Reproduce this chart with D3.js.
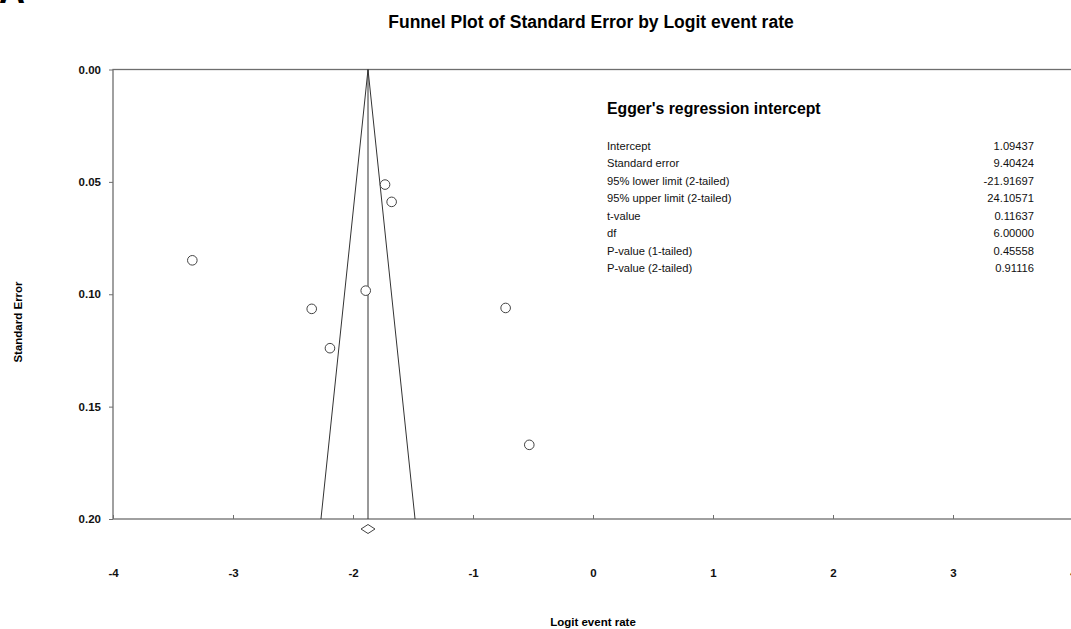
<!DOCTYPE html>
<html>
<head>
<meta charset="utf-8">
<script src="https://cdn.jsdelivr.net/npm/d3@7"></script>
<style>
  body { margin: 0; background: #fff; }
  svg { display: block; font-family: "Liberation Sans", Arial, sans-serif; }
</style>
</head>
<body>
<div id="viz"></div>
<script>
var width = 1071;
var height = 629;

// studies: logit event rate and standard error
var logitRate = [-3.339, -1.733, -1.678, -1.894, -2.344, -2.192, -0.728, -0.531];
var stdError  = [0.0849, 0.0512, 0.0589, 0.0984, 0.1065, 0.1240, 0.1061, 0.1670];
var pooled = -1.875;

var xTicks = [-4, -3, -2, -1, 0, 1, 2, 3, 4];
var yTicks = [0.00, 0.05, 0.10, 0.15, 0.20];

var eggerLabels = ["Intercept", "Standard error", "95% lower limit (2-tailed)", "95% upper limit (2-tailed)",
	"t-value", "df", "P-value (1-tailed)", "P-value (2-tailed)"];
var eggerValues = ["1.09437", "9.40424", "-21.91697", "24.10571", "0.11637", "6.00000", "0.45558", "0.91116"];

var x = d3.scaleLinear().domain([-4, 4]).range([113, 1073]);
var y = d3.scaleLinear().domain([0, 0.2]).range([69.5, 519]);

var svg = d3.select("#viz").append("svg")
	.attr("width", width)
	.attr("height", height);

// panel letter, mostly cut off at the top
svg.append("text")
	.attr("x", -1).attr("y", 3)
	.attr("font-size", 36).attr("font-weight", "bold")
	.text("A");

svg.append("text")
	.attr("x", 591).attr("y", 28)
	.attr("text-anchor", "middle")
	.attr("font-size", 17.5).attr("font-weight", "bold")
	.text("Funnel Plot of Standard Error by Logit event rate");

// frame
svg.append("rect")
	.attr("x", x(-4)).attr("y", y(0))
	.attr("width", x(4) - x(-4)).attr("height", y(0.2) - y(0))
	.attr("fill", "none").attr("stroke", "#6e6e6e").attr("stroke-width", 1.3);

// y axis
var yAxis = d3.axisLeft(y).tickValues(yTicks).tickFormat(d3.format(".2f")).tickSize(4).tickPadding(8);
var gy = svg.append("g").attr("transform", "translate(" + x(-4) + ",0)").call(yAxis);
gy.select(".domain").remove();
gy.selectAll("line").attr("stroke", "#6e6e6e");
gy.selectAll("text").attr("font-size", 11.5).attr("font-weight", "bold")
	.attr("font-family", "Liberation Sans, Arial, sans-serif").attr("fill", "#111");

// x axis (ticks inside, labels far below), plain hyphen for negatives
var xAxis = d3.axisBottom(x).tickValues(xTicks).tickFormat(function(d){ return String(d); }).tickSize(-4).tickPadding(50);
var gx = svg.append("g").attr("transform", "translate(0," + y(0.2) + ")").call(xAxis);
gx.select(".domain").remove();
gx.selectAll("line").attr("stroke", "#6e6e6e");
gx.selectAll("text").attr("font-size", 11.5).attr("font-weight", "bold")
	.attr("font-family", "Liberation Sans, Arial, sans-serif").attr("fill", "#111");

svg.append("text")
	.attr("x", 593).attr("y", 626)
	.attr("text-anchor", "middle")
	.attr("font-size", 11.5).attr("font-weight", "bold")
	.text("Logit event rate");

svg.append("text")
	.attr("transform", "translate(22,322) rotate(-90)")
	.attr("text-anchor", "middle")
	.attr("font-size", 11.5).attr("font-weight", "bold")
	.text("Standard Error");

// funnel
var funnel = [[pooled - 1.96 * 0.2, 0.2], [pooled, 0], [pooled + 1.96 * 0.2, 0.2]];
svg.append("path")
	.attr("d", d3.line().x(function(d){ return x(d[0]); }).y(function(d){ return y(d[1]); })(funnel))
	.attr("fill", "none").attr("stroke", "#333").attr("stroke-width", 1);
svg.append("line")
	.attr("x1", x(pooled)).attr("x2", x(pooled))
	.attr("y1", y(0)).attr("y2", y(0.2))
	.attr("stroke", "#333").attr("stroke-width", 1);

// pooled diamond under the axis
var dx = x(pooled), dy = y(0.2) + 10;
svg.append("path")
	.attr("d", "M" + (dx - 7) + "," + dy + " L" + dx + "," + (dy - 4.5) + " L" + (dx + 7) + "," + dy + " L" + dx + "," + (dy + 4.5) + " Z")
	.attr("fill", "#fff").attr("stroke", "#444").attr("stroke-width", 1);

// studies
svg.selectAll("circle.study")
	.data(d3.range(logitRate.length))
	.enter().append("circle")
	.attr("class", "study")
	.attr("cx", function(i){ return x(logitRate[i]); })
	.attr("cy", function(i){ return y(stdError[i]); })
	.attr("r", 4.8)
	.attr("fill", "#fff").attr("stroke", "#444").attr("stroke-width", 1);

// Egger's regression box
svg.append("text")
	.attr("x", 607).attr("y", 114)
	.attr("font-size", 15.8).attr("font-weight", "bold")
	.text("Egger's regression intercept");

var rows = svg.selectAll("g.egger")
	.data(d3.range(eggerLabels.length))
	.enter().append("g")
	.attr("class", "egger")
	.attr("transform", function(i){ return "translate(0," + (150 + i * 17.45) + ")"; });
rows.append("text")
	.attr("x", 607)
	.attr("font-size", 11.2).attr("fill", "#111")
	.text(function(i){ return eggerLabels[i]; });
rows.append("text")
	.attr("x", 1034)
	.attr("text-anchor", "end")
	.attr("font-size", 11.2).attr("fill", "#111")
	.text(function(i){ return eggerValues[i]; });
</script>
</body>
</html>
